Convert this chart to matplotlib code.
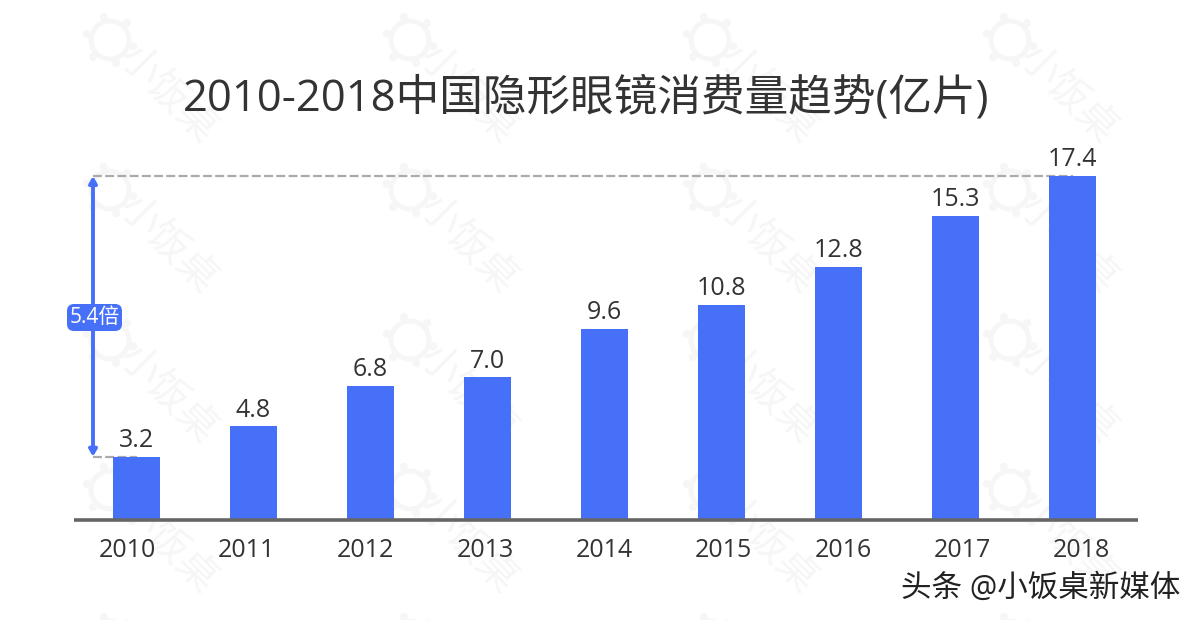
import numpy as np
import matplotlib
matplotlib.use("Agg")
import matplotlib.pyplot as plt
from matplotlib.patches import Circle, FancyBboxPatch

plt.rcParams['font.family'] = ['Open Sans', 'Noto Sans CJK SC', 'DejaVu Sans']

years = ['2010', '2011', '2012', '2013', '2014', '2015', '2016', '2017', '2018']
values = [3.2, 4.75, 6.8, 7.23, 9.66, 10.9, 12.8, 15.38, 17.4]
value_labels = ['3.2', '4.8', '6.8', '7.0', '9.6', '10.8', '12.8', '15.3', '17.4']
title = '2010-2018中国隐形眼镜消费量趋势(亿片)'
ratio_label = '5.4倍'
credit = '头条 @小饭桌新媒体'
watermark = '小饭桌'

BLUE = '#4670F8'
W, H = 1200, 620
fig = plt.figure(figsize=(W / 100, H / 100), dpi=100, facecolor='white')

# watermark layer in pixel coordinates
bg = fig.add_axes([0, 0, 1, 1], zorder=0)
bg.set_xlim(0, W); bg.set_ylim(H, 0); bg.axis('off')
wm = '#F6F6F6'
for gx in [110, 410, 710, 1010]:
    for gy in [40, 190, 340, 490, 640]:
        bg.add_patch(Circle((gx, gy), 19, fill=False, ec=wm, lw=3.5))
        for a in np.deg2rad(np.arange(0, 360, 60) + 15):
            bg.add_patch(Circle((gx + 24 * np.cos(a), gy + 24 * np.sin(a)), 4, fc=wm, ec='none'))
        if gy < 600:
            bg.text(gx + 57, gy + 55, watermark, rotation=-45, color=wm, fontsize=29,
                    ha='center', va='center', rotation_mode='anchor')

# main chart
left, right, top, base = 74, 1138, 140, 520
ax = fig.add_axes([left / W, 1 - base / H, (right - left) / W, (base - top) / H], zorder=1)
ax.patch.set_alpha(0)
ax.set_xlim((left - 136.5) / 117, (right - 136.5) / 117)
ax.set_ylim(0, (base - top) / 19.77)
x = np.arange(len(values))
ax.bar(x, values, width=47 / 117, color=BLUE, zorder=2)
for xi, v, s in zip(x, values, value_labels):
    ax.text(xi, v + 0.18, s, ha='center', va='bottom', fontsize=18, color='#333333',
            zorder=4)

for s in ['top', 'left', 'right']:
    ax.spines[s].set_visible(False)
ax.spines['bottom'].set_color('#666666')
ax.spines['bottom'].set_linewidth(2.6)
ax.spines['bottom'].set_capstyle('butt')
ax.set_yticks([])
ax.set_xticks(x * 119.3 / 117 - 0.08)
ax.set_xticklabels(years, fontsize=18, color='#333333')
ax.tick_params(axis='x', length=0, pad=13)

# comparison bracket
ax_x = (93 - 136.5) / 117
ax.plot([ax_x, len(values) - 1], [values[-1], values[-1]], color='#ABABAB', lw=1.6,
        dashes=(4, 1.5), zorder=1)
ax.plot([ax_x, 0], [values[0], values[0]], color='#ABABAB', lw=1.6, dashes=(4, 1.5), zorder=1)
ax.annotate('', xy=(ax_x, values[-1]), xytext=(ax_x, values[0]),
            arrowprops=dict(arrowstyle='<|-|>,head_width=0.22,head_length=0.38',
                            color=BLUE, lw=2.8, shrinkA=0, shrinkB=0), zorder=3)

# overlay for label badge and title
fg = fig.add_axes([0, 0, 1, 1], zorder=2)
fg.set_xlim(0, W); fg.set_ylim(H, 0); fg.axis('off')
fg.add_patch(FancyBboxPatch((73, 310), 43, 15, boxstyle='round,pad=6,rounding_size=7', fc=BLUE,
                            ec='none'))
fg.text(94.5, 317.5, ratio_label, color='white', fontsize=15, ha='center', va='center')
fg.text(586, 99, title, fontsize=31.4, color='#333333', ha='center', va='center')
fg.text(1041, 589, credit, fontsize=22, color='#222222', ha='center', va='center')

fig.savefig('out.png', dpi=100)
